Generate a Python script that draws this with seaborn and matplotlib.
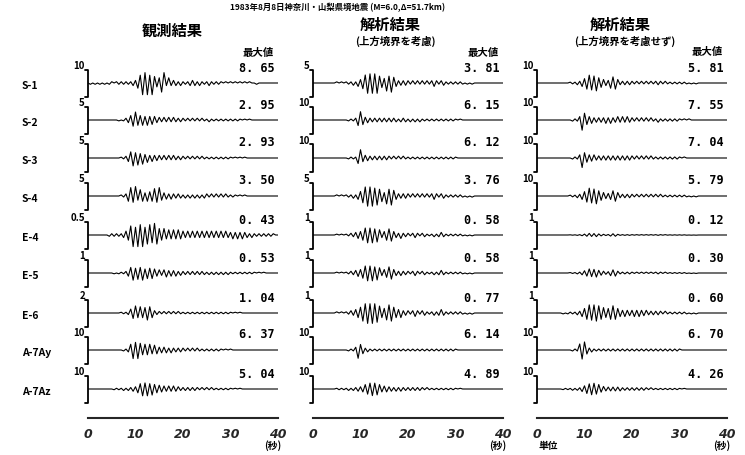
import numpy as np
import pandas as pd
import matplotlib
matplotlib.use("Agg")
import matplotlib.pyplot as plt
import seaborn as sns

sns.set_style("white")
plt.rcParams['font.family'] = ['Noto Sans CJK JP', 'DejaVu Sans']

# ---- data ----
stations = ['S-1', 'S-2', 'S-3', 'S-4', 'E-4', 'E-5', 'E-6', 'A-7Ay', 'A-7Az']
columns = ['観測結果', '解析結果', '解析結果']
subtitles = ['', '(上方境界を考慮)', '(上方境界を考慮せず)']

# scale bar value of each trace
obs_scale = [10, 5, 5, 5, 0.5, 1, 2, 10, 10]
cons_scale = [5, 10, 10, 5, 1, 1, 1, 10, 10]
free_scale = [10, 10, 10, 10, 1, 1, 1, 10, 10]

# peak values (最大値)
obs_max = [8.65, 2.95, 2.93, 3.50, 0.43, 0.53, 1.04, 6.37, 5.04]
cons_max = [3.81, 6.15, 6.12, 3.76, 0.58, 0.58, 0.77, 6.14, 4.89]
free_max = [5.81, 7.55, 7.04, 5.79, 0.12, 0.30, 0.60, 6.70, 4.26]

# half-cycle peak heights every 0.5 s (0..9, 9 = peak value)
obs_peaks = [
    "0101010101 1011111112 2469896953 4782422212 1112221211 1211111010 1010101010 0100000000",
    "0000000000 0001012357 9656464543 3232323222 2121212121 1211111111 1111101010 0000000000",
    "0000000000 0000112479 6857453433 3232323222 2121212121 1111111111 1010101000 0000000000",
    "0000000000 0000112586 9465354576 8433232222 1212121212 2121212121 1110101000 0000000000",
    "0000000001 1111123479 6989678697 5453434343 3232323232 3232323232 2323232212 1111111110",
    "0000000000 0101112479 6879576754 4345343423 2222222222 1212121212 1111111111 1010100000",
    "0000000000 0000111257 9686798632 2121212121 1111111111 1111111111 1010100000 0000000000",
    "0000000000 0000011269 8975656454 3333232222 2121212111 1111111010 1000000000 0000000000",
    "0000000000 0111121223 3579897865 5443434332 2222222121 2121111111 1010100000 0000000000",
]
cons_peaks = [
    "0000000000 1010111213 3579898964 4768532222 2121212121 2321221111 1111010100 0000000000",
    "0000000000 0000011126 9533222222 2222221222 1212121111 1111111111 1010000000 0000000000",
    "0000000000 0000011116 9433222222 2221212121 1111111111 1111111111 1000000000 0000000000",
    "0000000000 1010111213 4689897865 3768532222 2121212121 2321221111 1111010100 0000000000",
    "0000000000 1010112234 4689897863 4677432422 2123212211 1212321111 1111010100 0000000000",
    "0000000000 1010112234 4689897863 4577432322 2123212211 1212321111 1111010100 0000000000",
    "0000000000 1010112234 5789898864 4677543422 2123212211 1212321111 1111010100 0000000000",
    "0000000000 0000011139 6422111111 1111111111 1111111111 1111111111 1000000000 0000000000",
    "0000000000 1111121223 3467898864 4433232322 2222222121 1111111111 1010000000 0000000000",
]
free_peaks = [
    "0000000000 0000111224 5798896543 3677422222 2121212121 2221211111 1111010100 0000000000",
    "0000000000 0000011139 6433222223 2322323232 2121212121 1211111111 1010100000 0000000000",
    "0000000000 0000011139 5433322222 2222222222 2121212121 1111111111 1010000000 0000000000",
    "0000000000 0000111224 5798896543 3466422222 2121212121 2121111111 1111010100 0000000000",
    "0000000000 0000111224 5798896543 3677422222 2121212121 2221211111 1111010100 0000000000",
    "0000000000 0000111224 5798896543 3677422222 2121212121 2221211111 1111010100 0000000000",
    "0000000000 0101111224 5798998765 5787543433 3434333222 2221211111 1111010100 0000000000",
    "0000000000 0000011169 8422111111 1111111111 1111111111 1111111111 1000000000 0000000000",
    "0000000000 0111121224 5789987543 3333332222 2222222121 1111111111 1010000000 0000000000",
]

time_ticks = [0, 10, 20, 30, 40]

# ---- layout (pixels of a 745x455 figure) ----
W, H = 745, 455
col_x0 = [88, 313, 537]
col_w = 190
row_y = [83, 120, 158, 196, 235, 273, 313, 350, 389]
bar_px = 13.5


def fx(px):
    return px / W


def fy(py):
    return 1 - py / H


fig = plt.figure(figsize=(7.45, 4.55), dpi=100)
bold = dict(fontweight='bold', color='black')

fig.text(fx(338), fy(8), '1983年8月8日神奈川・山梨県境地震 (M=6.0,Δ=51.7km)',
         ha='center', va='center', fontsize=6, **bold)

scales = [obs_scale, cons_scale, free_scale]
maxes = [obs_max, cons_max, free_max]
peaks = [obs_peaks, cons_peaks, free_peaks]
head_x = [172, 390, 620]
head_y = [31, 25, 25]
maxlab_y = [53, 53, 52]

for c in range(3):
    x0 = col_x0[c]
    fig.text(fx(head_x[c]), fy(head_y[c]), columns[c], ha='center', va='center',
             fontsize=11, **bold)
    if subtitles[c]:
        fig.text(fx(head_x[c] + 5), fy(41), subtitles[c], ha='center', va='center',
                 fontsize=7.5, **bold)
    fig.text(fx(x0 + 186), fy(maxlab_y[c]), '最大値', ha='right', va='center',
             fontsize=7.5, **bold)

    for r in range(len(stations)):
        s = scales[c][r]
        m = maxes[c][r]
        digits = [int(ch) for ch in peaks[c][r].replace(' ', '')]
        t = np.arange(len(digits)) * 0.5
        sign = np.where(np.arange(len(digits)) % 2 == 0, 1, -1)
        amp = sign * np.array(digits) / 9 * m
        df = pd.DataFrame({'t': np.append(t, 40.0), 'a': np.append(amp, 0.0)})

        ax = fig.add_axes([fx(x0), fy(row_y[r] + 19), fx(col_w), 38 / H])
        lim = s * 19 / bar_px
        sns.lineplot(data=df, x='t', y='a', ax=ax, color='black', lw=0.8,
                     estimator=None, sort=False)
        ax.plot([-0.6, 0, 0, -0.6], [s, s, -s, -s], color='black', lw=1.3,
                clip_on=False)
        ax.set_xlim(0, 40)
        ax.set_ylim(-lim, lim)
        ax.axis('off')
        ax.patch.set_alpha(0)

        fig.text(fx(x0 - 3), fy(row_y[r] - 17), f'{s:g}', ha='right', va='center',
                 fontsize=7, **bold)
        fig.text(fx(x0 + 187), fy(row_y[r] - 15), f'{m:.2f}'.replace('.', '. '),
                 ha='right', va='center', fontsize=8.5, family='DejaVu Sans Mono',
                 **bold)
        if c == 0:
            fig.text(fx(22), fy(row_y[r] + 3), stations[r], ha='left', va='center',
                     fontsize=7.5, **bold)

    # time axis
    axb = fig.add_axes([fx(x0), fy(418), fx(col_w), 0.0001])
    axb.set_xlim(0, 40)
    axb.set_yticks([])
    for side in ['top', 'left', 'right']:
        axb.spines[side].set_visible(False)
    axb.spines['bottom'].set_linewidth(1.5)
    axb.set_xticks(range(0, 41, 5))
    axb.set_xticklabels([str(v) if v in time_ticks else '' for v in range(0, 41, 5)],
                        fontsize=9, fontweight='bold', fontstyle='italic',
                        family='DejaVu Sans')
    axb.tick_params(axis='x', direction='in', length=4, width=1.2, pad=7)
    axb.patch.set_alpha(0)
    fig.text(fx(x0 + 185), fy(446), '(秒)', ha='center', va='center', fontsize=7, **bold)

fig.text(fx(548), fy(446), '単位', ha='center', va='center', fontsize=7, **bold)

fig.savefig('out.png', dpi=100)
